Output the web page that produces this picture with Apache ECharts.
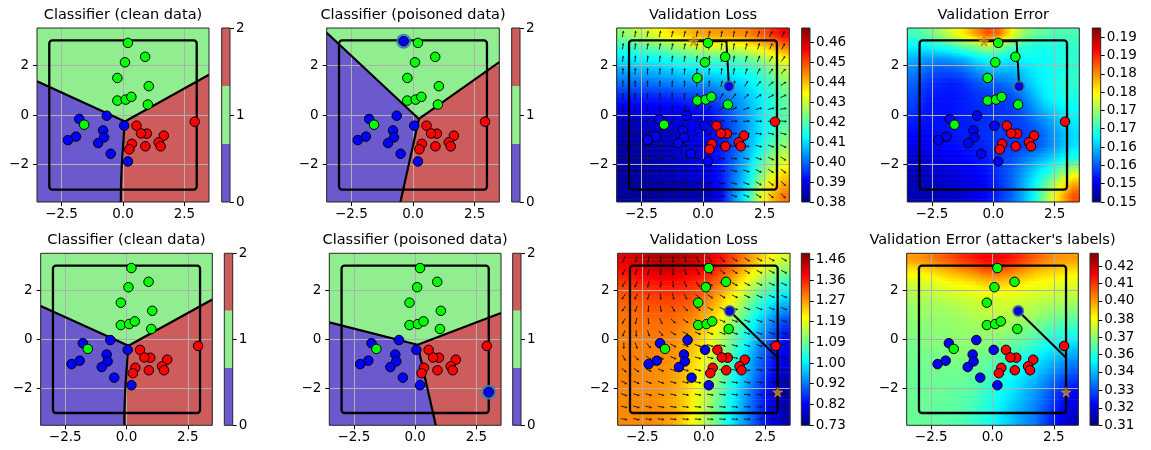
<!DOCTYPE html>
<html><head><meta charset="utf-8">
<script src="https://cdn.jsdelivr.net/npm/echarts@6/dist/echarts.min.js"></script>
<style>html,body{margin:0;padding:0;background:#fff}#c{width:1151px;height:450px}</style>
</head><body><div id="c"></div>
<script>
// ---------------- DATA ----------------
const titles = ['Classifier (clean data)','Classifier (poisoned data)','Validation Loss','Validation Error',
                'Classifier (clean data)','Classifier (poisoned data)','Validation Loss',"Validation Error (attacker's labels)"];
const xTickVals = [-2.5, 0, 2.5];
const yTickVals = [-2, 0, 2];

// training points per class
const class0Pts = [[-1.78,-0.16],[-0.66,-0.03],[0.05,-0.43],[-0.81,-0.62],[-0.77,-0.90],[-1.91,-0.87],[-2.24,-1.01],[-1.01,-1.13],[-0.50,-1.56],[0.20,-1.87]];
const class1Pts = [[0.20,2.90],[0.90,2.34],[0.08,2.12],[-0.23,1.49],[1.05,1.16],[-0.23,0.58],[0.11,0.62],[0.34,0.73],[1.01,0.42],[-1.58,-0.39]];
const class2Pts = [[2.92,-0.27],[0.55,-0.43],[0.97,-0.75],[0.73,-0.74],[1.66,-0.83],[1.45,-1.10],[1.53,-1.26],[0.91,-1.26],[0.36,-1.16],[0.26,-1.38]];

// feasible box [xmin, ymin, xmax, ymax]
const boxBounds = [-3, -3, 3, 3];

// decision boundaries: green/blue, green/red, blue/red (from the junction)
const cleanGB = [[-3.5,1.36],[0.08,-0.26]];
const cleanGR = [[0.08,-0.26],[3.5,1.62]];
const cleanBR = [[0.08,-0.26],[0.04,-0.7],[0.0,-1.3],[-0.05,-2.0],[-0.08,-2.8],[-0.09,-3.5]];
const poisonTopGB = [[-3.5,3.31],[0.24,-0.16]];
const poisonTopGR = [[0.24,-0.16],[3.5,2.13]];
const poisonTopBR = [[0.24,-0.16],[-0.51,-3.5]];
const poisonBotGB = [[-3.5,0.69],[0.1,-0.22]];
const poisonBotGR = [[0.1,-0.22],[3.5,1.07]];
const poisonBotBR = [[0.1,-0.22],[0.84,-3.5]];

// attack points
const poisonTopPt = [[-0.38, 2.97]];
const poisonBotPt = [[3.0, -2.15]];
const attackStart = [[1.05, 1.15]];
const pathTop = [[1.05,1.15],[0.95,2.97],[-0.38,2.97]];
const pathBot = [[1.05,1.15],[3.0,-0.75],[3.0,-2.15]];
const starTop = [[-0.38, 2.97]];
const starBot = [[3.0, -2.15]];

// heat map sample grid (cell centres)
const gridXs = [-3.25,-2.75,-2.25,-1.75,-1.25,-0.75,-0.25,0.25,0.75,1.25,1.75,2.25,2.75,3.25];
const gridYs = [3.25,2.75,2.25,1.75,1.25,0.75,0.25,-0.25,-0.75,-1.25,-1.75,-2.25,-2.75,-3.25];

const lossTop = [
[0.425,0.428,0.430,0.434,0.437,0.439,0.442,0.443,0.443,0.444,0.445,0.448,0.452,0.457],
[0.417,0.419,0.421,0.423,0.425,0.428,0.430,0.432,0.432,0.432,0.434,0.437,0.441,0.446],
[0.411,0.412,0.413,0.413,0.415,0.417,0.418,0.419,0.419,0.419,0.421,0.424,0.429,0.434],
[0.405,0.406,0.406,0.407,0.408,0.410,0.410,0.411,0.412,0.413,0.415,0.417,0.422,0.428],
[0.400,0.400,0.400,0.401,0.402,0.403,0.403,0.404,0.406,0.408,0.410,0.414,0.418,0.424],
[0.394,0.394,0.394,0.394,0.395,0.396,0.397,0.397,0.400,0.403,0.407,0.411,0.416,0.421],
[0.390,0.390,0.390,0.390,0.390,0.391,0.392,0.393,0.396,0.401,0.405,0.410,0.415,0.420],
[0.386,0.386,0.387,0.387,0.388,0.389,0.390,0.390,0.394,0.399,0.404,0.410,0.415,0.420],
[0.384,0.384,0.384,0.385,0.386,0.387,0.389,0.390,0.393,0.398,0.404,0.410,0.416,0.422],
[0.383,0.383,0.383,0.384,0.385,0.387,0.388,0.390,0.393,0.398,0.404,0.412,0.419,0.425],
[0.383,0.383,0.383,0.384,0.385,0.387,0.388,0.390,0.393,0.399,0.406,0.415,0.424,0.430],
[0.383,0.383,0.383,0.384,0.385,0.386,0.388,0.389,0.393,0.400,0.408,0.419,0.429,0.436],
[0.383,0.383,0.383,0.384,0.384,0.385,0.386,0.388,0.392,0.401,0.410,0.424,0.435,0.441],
[0.383,0.383,0.383,0.383,0.384,0.384,0.385,0.386,0.391,0.403,0.413,0.429,0.439,0.446]];

const errTop = [
[0.1709,0.1723,0.1747,0.1776,0.1804,0.1842,0.1880,0.1866,0.1795,0.1747,0.1728,0.1719,0.1714,0.1714],
[0.1676,0.1676,0.1690,0.1704,0.1723,0.1738,0.1761,0.1747,0.1719,0.1700,0.1690,0.1690,0.1690,0.1700],
[0.1643,0.1633,0.1628,0.1633,0.1643,0.1666,0.1681,0.1681,0.1671,0.1681,0.1681,0.1681,0.1690,0.1700],
[0.1619,0.1605,0.1595,0.1595,0.1605,0.1624,0.1643,0.1643,0.1643,0.1657,0.1671,0.1681,0.1690,0.1700],
[0.1605,0.1586,0.1576,0.1571,0.1576,0.1595,0.1605,0.1605,0.1619,0.1643,0.1666,0.1681,0.1690,0.1700],
[0.1595,0.1576,0.1567,0.1567,0.1571,0.1581,0.1586,0.1586,0.1595,0.1619,0.1652,0.1676,0.1690,0.1690],
[0.1586,0.1571,0.1567,0.1567,0.1571,0.1576,0.1581,0.1581,0.1586,0.1605,0.1633,0.1657,0.1671,0.1681],
[0.1571,0.1567,0.1567,0.1567,0.1571,0.1576,0.1581,0.1586,0.1586,0.1595,0.1614,0.1633,0.1657,0.1671],
[0.1562,0.1562,0.1562,0.1567,0.1571,0.1576,0.1581,0.1586,0.1586,0.1586,0.1595,0.1619,0.1643,0.1662],
[0.1548,0.1552,0.1557,0.1562,0.1567,0.1571,0.1576,0.1586,0.1586,0.1586,0.1595,0.1619,0.1643,0.1666],
[0.1533,0.1538,0.1548,0.1552,0.1557,0.1567,0.1571,0.1586,0.1595,0.1614,0.1633,0.1652,0.1671,0.1690],
[0.1529,0.1533,0.1538,0.1543,0.1548,0.1557,0.1567,0.1586,0.1605,0.1633,0.1662,0.1690,0.1728,0.1766],
[0.1524,0.1529,0.1533,0.1538,0.1543,0.1552,0.1562,0.1581,0.1605,0.1643,0.1681,0.1728,0.1785,0.1833],
[0.1524,0.1524,0.1529,0.1533,0.1538,0.1548,0.1562,0.1581,0.1605,0.1643,0.1690,0.1761,0.1823,0.1880]];

const lossBot = [
[1.411,1.426,1.449,1.457,1.457,1.449,1.434,1.411,1.381,1.336,1.290,1.245,1.199,1.169],
[1.381,1.396,1.411,1.426,1.426,1.411,1.396,1.373,1.336,1.290,1.237,1.184,1.146,1.109],
[1.351,1.366,1.373,1.381,1.381,1.373,1.358,1.336,1.298,1.245,1.184,1.131,1.086,1.048],
[1.328,1.336,1.343,1.351,1.351,1.343,1.328,1.298,1.252,1.199,1.139,1.078,1.033,0.995],
[1.313,1.320,1.328,1.328,1.328,1.320,1.298,1.267,1.222,1.161,1.093,1.033,0.980,0.942],
[1.305,1.313,1.313,1.313,1.313,1.298,1.275,1.237,1.184,1.124,1.056,0.987,0.934,0.881],
[1.298,1.305,1.305,1.305,1.298,1.283,1.252,1.214,1.161,1.093,1.025,0.957,0.897,0.844],
[1.298,1.298,1.298,1.298,1.290,1.267,1.237,1.192,1.139,1.071,1.003,0.927,0.866,0.821],
[1.298,1.298,1.298,1.290,1.283,1.260,1.222,1.177,1.116,1.048,0.980,0.912,0.851,0.806],
[1.298,1.298,1.290,1.290,1.275,1.252,1.214,1.161,1.101,1.033,0.965,0.897,0.836,0.791],
[1.298,1.290,1.290,1.283,1.275,1.245,1.199,1.146,1.086,1.018,0.950,0.881,0.821,0.775],
[1.290,1.290,1.290,1.283,1.267,1.237,1.192,1.139,1.071,1.003,0.934,0.866,0.806,0.760],
[1.290,1.290,1.290,1.283,1.267,1.237,1.184,1.131,1.063,0.995,0.927,0.866,0.806,0.768],
[1.290,1.290,1.290,1.283,1.267,1.230,1.184,1.124,1.056,0.987,0.927,0.866,0.813,0.775]];

const errBot = [
[0.396,0.398,0.402,0.405,0.409,0.412,0.415,0.415,0.412,0.408,0.403,0.399,0.397,0.396],
[0.386,0.387,0.390,0.393,0.396,0.399,0.403,0.403,0.400,0.396,0.392,0.390,0.389,0.387],
[0.379,0.380,0.381,0.384,0.385,0.387,0.390,0.390,0.389,0.386,0.384,0.383,0.381,0.381],
[0.375,0.375,0.377,0.378,0.379,0.380,0.381,0.381,0.381,0.380,0.379,0.378,0.377,0.377],
[0.372,0.373,0.373,0.374,0.375,0.377,0.378,0.378,0.378,0.377,0.375,0.373,0.372,0.371],
[0.371,0.371,0.372,0.372,0.373,0.374,0.375,0.375,0.374,0.373,0.371,0.368,0.366,0.365],
[0.370,0.370,0.371,0.371,0.372,0.372,0.372,0.372,0.371,0.368,0.366,0.362,0.360,0.358],
[0.368,0.370,0.370,0.370,0.371,0.371,0.370,0.368,0.366,0.364,0.360,0.356,0.353,0.350],
[0.368,0.368,0.368,0.370,0.370,0.368,0.367,0.365,0.361,0.358,0.354,0.350,0.347,0.343],
[0.367,0.368,0.368,0.368,0.368,0.367,0.365,0.361,0.358,0.354,0.349,0.345,0.340,0.336],
[0.367,0.367,0.367,0.367,0.367,0.365,0.362,0.359,0.354,0.350,0.346,0.340,0.334,0.330],
[0.367,0.367,0.367,0.366,0.365,0.364,0.360,0.356,0.352,0.347,0.342,0.336,0.329,0.324],
[0.367,0.367,0.366,0.366,0.365,0.362,0.359,0.354,0.349,0.345,0.340,0.334,0.327,0.321],
[0.367,0.366,0.366,0.365,0.364,0.361,0.358,0.353,0.348,0.343,0.339,0.331,0.324,0.317]];

// gradient arrow directions (degrees, 0 = +x, 90 = +y) at the grid cell centres
const arrowsTop = [
[80,80,78,77,76,76,76,78,80,80,75,70,65,62],
[82,82,80,79,78,78,78,80,82,82,76,70,64,60],
[85,85,84,83,82,82,82,84,85,82,76,68,60,55],
[88,88,88,87,86,85,85,86,84,80,72,62,52,45],
[90,90,90,89,88,87,86,84,78,70,60,50,40,35],
[90,90,90,89,88,86,82,74,62,50,40,32,28,25],
[88,88,87,86,84,80,70,55,38,25,18,15,12,10],
[80,78,75,70,65,55,40,25,12,5,3,0,0,-5],
[60,55,50,45,38,30,20,10,3,0,-3,-8,-12,-15],
[40,35,30,25,20,15,10,5,0,-3,-8,-15,-20,-25],
[20,18,15,12,10,8,5,2,-2,-6,-12,-20,-28,-32],
[10,8,6,5,4,3,2,0,-4,-10,-18,-26,-34,-38],
[5,3,2,0,0,0,0,-2,-6,-12,-20,-30,-38,-42],
[0,0,-2,-2,-2,-2,-2,-4,-8,-14,-22,-32,-40,-45]];
const arrowsBot = [
[-110,-105,-100,-95,-90,-80,-65,-50,-40,-35,-32,-30,-30,-30],
[-115,-110,-105,-95,-90,-75,-60,-45,-38,-33,-30,-28,-28,-28],
[-120,-115,-105,-95,-85,-70,-55,-42,-35,-30,-27,-25,-25,-25],
[-125,-115,-105,-90,-75,-60,-45,-35,-30,-27,-25,-24,-24,-24],
[-125,-110,-95,-80,-60,-45,-35,-28,-25,-23,-22,-22,-22,-22],
[-120,-105,-85,-65,-45,-35,-28,-24,-22,-20,-20,-20,-20,-20],
[-110,-90,-70,-50,-35,-28,-24,-20,-18,-18,-18,-18,-18,-18],
[-90,-70,-50,-35,-28,-22,-20,-18,-16,-16,-16,-16,-16,-16],
[-60,-45,-35,-28,-22,-18,-16,-15,-14,-14,-14,-14,-14,-12],
[-40,-35,-28,-22,-18,-15,-14,-13,-12,-12,-12,-12,-10,-8],
[-30,-25,-22,-18,-15,-12,-12,-11,-10,-10,-10,-8,-5,-2],
[-20,-18,-16,-14,-12,-10,-10,-9,-8,-8,-6,-4,0,2],
[-15,-14,-12,-10,-8,-7,-7,-6,-5,-4,-2,2,5,8],
[-10,-10,-8,-7,-6,-5,-5,-4,-3,-2,0,4,8,12]];

// colour bar ranges and tick labels
const lossTopRange = [0.380, 0.467];
const errTopRange = [0.150, 0.1975];
const lossBotRange = [0.730, 1.487];
const errBotRange = [0.310, 0.429];
const lossTopTicks = [0.38,0.39,0.40,0.41,0.42,0.43,0.44,0.45,0.46];
const lossTopLabels = ['0.38','0.39','0.40','0.41','0.42','0.43','0.44','0.45','0.46'];
const errTopTicks = [0.150,0.155,0.160,0.165,0.170,0.175,0.180,0.185,0.190,0.195];
const errTopLabels = ['0.15','0.15','0.16','0.16','0.17','0.17','0.18','0.18','0.19','0.19'];
const lossBotTicks = [0.73,0.821,0.913,1.004,1.095,1.186,1.278,1.369,1.46];
const lossBotLabels = ['0.73','0.82','0.92','1.00','1.09','1.19','1.27','1.36','1.46'];
const errBotTicks = [0.31,0.322,0.334,0.347,0.359,0.371,0.383,0.396,0.408,0.42];
const errBotLabels = ['0.31','0.32','0.33','0.34','0.36','0.37','0.38','0.40','0.41','0.42'];
const classBands = [0, 0.6667, 1.3333, 2];
const classTicks = [0, 1, 2];
const classLabels = ['0','1','2'];

// ---------------- STYLE / LAYOUT ----------------
const FONT = 'DejaVu Sans';
const jet = ['#00007f','#0000ff','#007fff','#00ffff','#7fff7f','#ffff00','#ff7f00','#ff0000','#7f0000'];
const classColors = ['#6a5acd','#90ee90','#cd5c5c'];
const ptColors = ['#0000ff','#00ff00','#ff0000'];
const plotBoxes = [[37,28,172,174],[326.7,28,172.6,174],[616.7,28,172.6,174],[907.3,28,172,174],
                   [40.7,253.3,171.6,172],[329.3,253.3,171.7,172],[617.7,253.3,172.3,172],[906.7,253.3,171.6,172]];
const cbBoxes = [[221.7,28,8.3,174],[511.7,28,8.3,174],[801.7,28,8.3,174],[1092.3,28,8.4,174],
                 [224.3,253.3,8.4,172],[512.7,253.3,8.3,172],[801.3,253.3,8.4,172],[1090,253.3,8.3,172]];
const titleY = [8, 233];
const PT = 9.5;

const grids = [], xAxes = [], yAxes = [], series = [], graphics = [];
const minusFmt = (v, d) => (v < 0 ? '\u2212' : '') + Math.abs(v).toFixed(d);
const ci = (k) => 8 + k;      // colour-bar grid index

const jetRgb = jet.map(h => [parseInt(h.substr(1,2),16), parseInt(h.substr(3,2),16), parseInt(h.substr(5,2),16)]);
function jetColor(v, lo, hi) {
  let t = (v - lo) / (hi - lo); t = Math.max(0, Math.min(1, t));
  const s = t * (jetRgb.length - 1); const i = Math.min(jetRgb.length - 2, Math.floor(s)); const f = s - i;
  const a = jetRgb[i], b = jetRgb[i+1];
  return 'rgb(' + Math.round(a[0]+(b[0]-a[0])*f) + ',' + Math.round(a[1]+(b[1]-a[1])*f) + ',' + Math.round(a[2]+(b[2]-a[2])*f) + ')';
}

function addMain(k) {
  const b = plotBoxes[k];
  grids[k] = {left:b[0], top:b[1], width:b[2], height:b[3], show:true, borderColor:'#262626', borderWidth:1, backgroundColor:'transparent', z:9};
  xAxes[k] = {gridIndex:k, type:'value', min:-3.5, max:3.5, z:3,
    axisLine:{show:false, onZero:false},
    axisTick:{show:true, length:4, customValues:xTickVals, lineStyle:{color:'#000', width:1}},
    axisLabel:{customValues:xTickVals, formatter:v=>minusFmt(v,1), fontSize:13.5, color:'#000', fontFamily:FONT, margin:5},
    splitLine:{show:true, lineStyle:{color:'#b0b0b0', width:1}}};
  yAxes[k] = {gridIndex:k, type:'value', min:-3.5, max:3.5, z:3,
    axisLine:{show:false, onZero:false},
    axisTick:{show:true, length:4, customValues:yTickVals, lineStyle:{color:'#000', width:1}},
    axisLabel:{customValues:yTickVals, formatter:v=>minusFmt(v,0), fontSize:13.5, color:'#000', fontFamily:FONT, margin:8},
    splitLine:{show:true, lineStyle:{color:'#b0b0b0', width:1}}};
  graphics.push({type:'text', x:b[0]+b[2]/2, y:titleY[k<4?0:1], silent:true,
    style:{text:titles[k], font:'14.5px "DejaVu Sans"', fill:'#000', textAlign:'center', textVerticalAlign:'top'}});
}

function addColorbar(k, lo, hi, ticks, labels, drawFn) {
  const b = cbBoxes[k], g = ci(k);
  grids[g] = {left:b[0], top:b[1], width:b[2], height:b[3], show:true, borderColor:'#262626', borderWidth:1, backgroundColor:'transparent', z:9};
  xAxes[g] = {gridIndex:g, type:'value', min:0, max:1, show:false};
  yAxes[g] = {gridIndex:g, type:'value', min:lo, max:hi, position:'right',
    axisLine:{show:false, onZero:false},
    axisTick:{show:true, length:4, customValues:ticks, lineStyle:{color:'#000'}},
    axisLabel:{customValues:ticks, fontSize:13.5, color:'#000', fontFamily:FONT, margin:6,
      formatter:(v)=>{ let idx = 0, best = 1e9; ticks.forEach((t,i)=>{ if (Math.abs(t-v)<best){best=Math.abs(t-v); idx=i;} }); return labels[idx]; }},
    splitLine:{show:false}};
  series.push({type:'custom', coordinateSystem:'cartesian2d', xAxisIndex:g, yAxisIndex:g, silent:true, z:1,
    data:[[0, lo]], renderItem:(p, api)=>drawFn(api, lo, hi)});
}

function jetBar(api, lo, hi) {
  const a = api.coord([0, hi]), b = api.coord([1, lo]);
  const stops = jet.map((c,i)=>({offset:i/(jet.length-1), color:c}));
  return {type:'rect', shape:{x:a[0], y:a[1], width:b[0]-a[0], height:b[1]-a[1]},
    style:{fill:new echarts.graphic.LinearGradient(0,1,0,0,stops)}};
}
function classBar(api) {
  const children = [];
  for (let i = 0; i < 3; i++) {
    const a = api.coord([0, classBands[i+1]]), b = api.coord([1, classBands[i]]);
    children.push({type:'rect', shape:{x:a[0], y:a[1], width:b[0]-a[0], height:b[1]-a[1]}, style:{fill:classColors[i]}});
  }
  return {type:'group', children};
}

// smooth field: each quad between neighbouring samples is shaded with gradients
function addHeat(k, vals, range) {
  const ex = [-3.5, ...gridXs, 3.5], ey = [3.5, ...gridYs, -3.5];
  const n = gridXs.length;
  const V = (r, c) => vals[Math.max(0, Math.min(n-1, r-1))][Math.max(0, Math.min(n-1, c-1))];
  const data = [];
  for (let r = 0; r < ey.length - 1; r++) for (let c = 0; c < ex.length - 1; c++) data.push([(ex[c]+ex[c+1])/2, (ey[r]+ey[r+1])/2, r, c]);
  const STR = 5;
  series.push({type:'custom', coordinateSystem:'cartesian2d', xAxisIndex:k, yAxisIndex:k, silent:true, z:1, clip:true,
    data, encode:{x:0, y:1},
    renderItem:(p, api)=>{
      const r = api.value(2), c = api.value(3);
      const x0 = ex[c], x1 = ex[c+1], y0 = ey[r], y1 = ey[r+1];
      const tl = V(r,c), tr = V(r,c+1), bl = V(r+1,c), br = V(r+1,c+1);
      const children = [];
      for (let j = 0; j < STR; j++) {
        const f = (j + 0.5) / STR;
        const ya = y0 + (y1 - y0) * j / STR, yb = y0 + (y1 - y0) * (j + 1) / STR;
        const vl = tl + (bl - tl) * f, vr = tr + (br - tr) * f, vm = (vl + vr) / 2;
        const A = api.coord([x0, ya]), B = api.coord([x1, yb]);
        children.push({type:'rect', shape:{x:A[0]-0.3, y:A[1]-0.3, width:B[0]-A[0]+0.6, height:B[1]-A[1]+0.6},
          style:{fill:new echarts.graphic.LinearGradient(0,0,1,0,[
            {offset:0, color:jetColor(vl, range[0], range[1])},
            {offset:0.5, color:jetColor(vm, range[0], range[1])},
            {offset:1, color:jetColor(vr, range[0], range[1])}])}});
      }
      return {type:'group', children};
    }});
}

function addQuiver(k, angles) {
  const data = [];
  gridYs.forEach((y,r)=>gridXs.forEach((x,c)=>data.push([x, y, angles[r][c]])));
  series.push({type:'custom', coordinateSystem:'cartesian2d', xAxisIndex:k, yAxisIndex:k, silent:true, z:4, clip:true,
    data, encode:{x:0, y:1},
    renderItem:(p, api)=>{
      const P = api.coord([api.value(0), api.value(1)]);
      const a = api.value(2) * Math.PI / 180;
      const dx = Math.cos(a), dy = -Math.sin(a), hx = -dy, hy = dx;
      const sx = P[0] - dx * 3, sy = P[1] - dy * 3;
      const ex2 = P[0] + dx * 1.5, ey2 = P[1] + dy * 1.5;
      const tip = [P[0] + dx * 3.8, P[1] + dy * 3.8];
      return {type:'group', children:[
        {type:'line', shape:{x1:sx, y1:sy, x2:ex2, y2:ey2}, style:{stroke:'#111', lineWidth:0.9}},
        {type:'polygon', shape:{points:[tip, [ex2 + hx*1.3, ey2 + hy*1.3], [ex2 - hx*1.3, ey2 - hy*1.3]]}, style:{fill:'#111'}}]};
    }});
}

function addRegions(k, GB, GR, BR) {
  series.push({type:'custom', coordinateSystem:'cartesian2d', xAxisIndex:k, yAxisIndex:k, silent:true, z:1, clip:true,
    data:[[0,0]],
    renderItem:(p, api)=>{
      const c = pt => api.coord(pt);
      const L = GB[0];
      const green = [L, ...GB.slice(1), ...GR.slice(1), [3.5,3.5], [-3.5,3.5]].map(c);
      const blue = [...GB, ...BR.slice(1), [-3.5,-3.5]].map(c);
      const red = [...GR, [3.5,-3.5], ...BR.slice(1).reverse()].map(c);
      return {type:'group', children:[
        {type:'polygon', shape:{points:blue}, style:{fill:classColors[0], stroke:classColors[0], lineWidth:0.5}},
        {type:'polygon', shape:{points:green}, style:{fill:classColors[1], stroke:classColors[1], lineWidth:0.5}},
        {type:'polygon', shape:{points:red}, style:{fill:classColors[2], stroke:classColors[2], lineWidth:0.5}}]};
    }});
  series.push({type:'custom', coordinateSystem:'cartesian2d', xAxisIndex:k, yAxisIndex:k, silent:true, z:5, clip:true,
    data:[[0,0]],
    renderItem:(p, api)=>({type:'group', children:[
      {type:'polyline', shape:{points:[...GB, ...GR.slice(1)].map(q=>api.coord(q))}, style:{stroke:'#000', lineWidth:2.2, fill:null, lineJoin:'round'}},
      {type:'polyline', shape:{points:BR.map(q=>api.coord(q))}, style:{stroke:'#000', lineWidth:2.2, fill:null, lineJoin:'round'}}]})});
}

function addBox(k) {
  series.push({type:'custom', coordinateSystem:'cartesian2d', xAxisIndex:k, yAxisIndex:k, silent:true, z:5,
    data:[[boxBounds[0], boxBounds[1]]],
    renderItem:(p, api)=>{
      const a = api.coord([boxBounds[0], boxBounds[3]]), b = api.coord([boxBounds[2], boxBounds[1]]);
      return {type:'rect', shape:{x:a[0], y:a[1], width:b[0]-a[0], height:b[1]-a[1], r:3},
        style:{stroke:'#000', lineWidth:2.3, fill:null}};
    }});
}

function addPath(k, path) {
  series.push({type:'custom', coordinateSystem:'cartesian2d', xAxisIndex:k, yAxisIndex:k, silent:true, z:5,
    data:[path[0]],
    renderItem:(p, api)=>({type:'polyline', shape:{points:path.map(q=>api.coord(q))}, style:{stroke:'#000', lineWidth:2, fill:null}})});
}

function scatter(k, data, color, size, border, bw, z) {
  series.push({type:'scatter', xAxisIndex:k, yAxisIndex:k, data, symbol:'circle', symbolSize:size, silent:true, z,
    itemStyle:{color, borderColor:border, borderWidth:bw, opacity:1}, emphasis:{disabled:true}, animation:false});
}

function addPoints(k) {
  scatter(k, class0Pts, ptColors[0], PT, '#000', 1, 6);
  scatter(k, class1Pts, ptColors[1], PT, '#000', 1, 6);
  scatter(k, class2Pts, ptColors[2], PT, '#000', 1, 6);
}

const starPath = 'path://M50,0 L61,35 L98,35 L68,57 L79,91 L50,70 L21,91 L32,57 L2,35 L39,35 Z';
function addStar(k, pt) {
  series.push({type:'scatter', xAxisIndex:k, yAxisIndex:k, data:pt, symbol:starPath, symbolSize:10, silent:true, z:8,
    itemStyle:{color:'#f0a030', borderColor:'#e07010', borderWidth:1}, animation:false});
  scatter(k, pt, '#3a9a3a', 3, '#3a9a3a', 0, 9);
}

// ---- build the 8 panels ----
for (let k = 0; k < 8; k++) addMain(k);

// classifier panels
addRegions(0, cleanGB, cleanGR, cleanBR);
addRegions(1, poisonTopGB, poisonTopGR, poisonTopBR);
addRegions(4, cleanGB, cleanGR, cleanBR);
addRegions(5, poisonBotGB, poisonBotGR, poisonBotBR);
[0,1,4,5].forEach(k=>{ addBox(k); addPoints(k); });
scatter(1, poisonTopPt, 'rgba(50,120,200,0.85)', 15, 'rgba(50,120,200,0.85)', 0, 7);
scatter(1, poisonTopPt, '#0000ff', PT, '#000', 1, 8);
scatter(5, poisonBotPt, 'rgba(50,120,200,0.85)', 15, 'rgba(50,120,200,0.85)', 0, 7);
scatter(5, poisonBotPt, '#0000ff', PT, '#000', 1, 8);

// heat map panels
addHeat(2, lossTop, lossTopRange);
addHeat(3, errTop, errTopRange);
addHeat(6, lossBot, lossBotRange);
addHeat(7, errBot, errBotRange);
addQuiver(2, arrowsTop);
addQuiver(6, arrowsBot);
[[2,pathTop,starTop],[3,pathTop,starTop],[6,pathBot,starBot],[7,pathBot,starBot]].forEach(([k,path,star])=>{
  addBox(k); addPath(k, path); addPoints(k);
  scatter(k, attackStart, 'rgba(70,120,180,0.85)', 12, 'rgba(70,120,180,0.85)', 0, 7);
  scatter(k, attackStart, '#0000ff', 8, '#1a1a60', 0.8, 8);
  addStar(k, star);
});

// colour bars
[0,1,4,5].forEach(k=>addColorbar(k, 0, 2, classTicks, classLabels, classBar));
addColorbar(2, lossTopRange[0], lossTopRange[1], lossTopTicks, lossTopLabels, jetBar);
addColorbar(3, errTopRange[0], errTopRange[1], errTopTicks, errTopLabels, jetBar);
addColorbar(6, lossBotRange[0], lossBotRange[1], lossBotTicks, lossBotLabels, jetBar);
addColorbar(7, errBotRange[0], errBotRange[1], errBotTicks, errBotLabels, jetBar);

const chart = echarts.init(document.getElementById('c'), null, {renderer:'canvas'});
chart.setOption({animation:false, backgroundColor:'#fff', textStyle:{fontFamily:FONT},
  grid:grids, xAxis:xAxes, yAxis:yAxes, series, graphic:{elements:graphics}});
</script></body></html>
